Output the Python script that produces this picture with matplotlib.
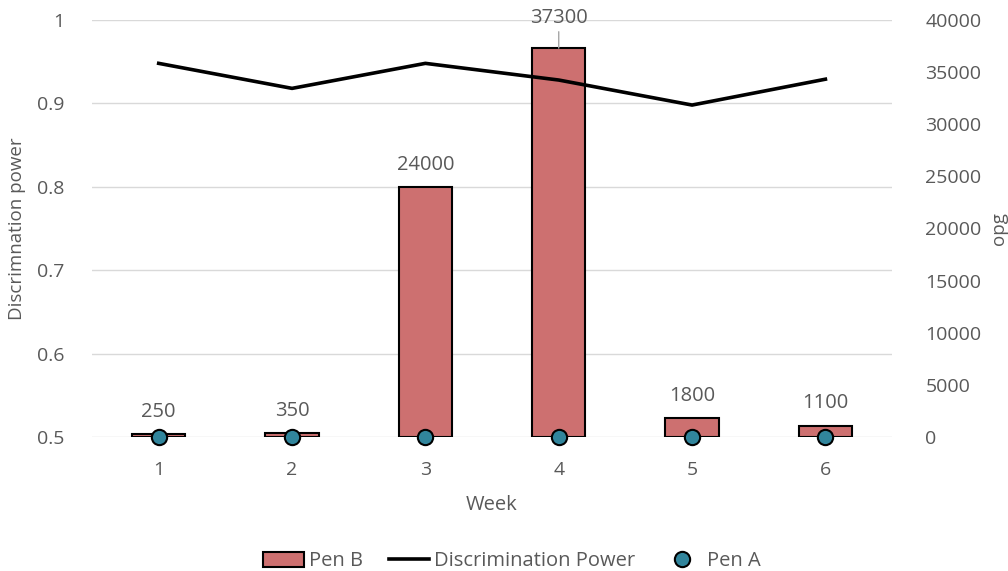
import matplotlib
matplotlib.use("Agg")
import matplotlib.pyplot as plt
from matplotlib.patches import Patch
from matplotlib.lines import Line2D

weeks = [1, 2, 3, 4, 5, 6]
week_labels = ["1", "2", "3", "4", "5", "6"]
pen_b = [250, 350, 24000, 37300, 1800, 1100]
discrimination_power = [0.948, 0.918, 0.948, 0.928, 0.898, 0.929]
pen_a = [0, 0, 0, 0, 0, 0]
left_ticks = [0.5, 0.6, 0.7, 0.8, 0.9, 1.0]
left_tick_labels = ["0.5", "0.6", "0.7", "0.8", "0.9", "1"]
right_ticks = [0, 5000, 10000, 15000, 20000, 25000, 30000, 35000, 40000]

TXT = "#595959"
BAR = "#CD7070"
TEAL = "#31859C"
GRID = "#D9D9D9"
plt.rcParams['font.family'] = ['Open Sans', 'DejaVu Sans']

fig = plt.figure(figsize=(10.08, 5.71), dpi=100)
pos = [0.0913, 0.2347, 0.7937, 0.7303]
ax1 = fig.add_axes(pos)
ax1.set_xlim(0.5, 6.5)
ax1.set_ylim(0.5, 1.0)
ax1.set_yticks(left_ticks)
ax1.set_yticklabels(left_tick_labels)
ax1.set_xticks(weeks)
ax1.set_xticklabels(week_labels)
ax1.grid(axis='y', color=GRID, linewidth=1)
ax1.set_axisbelow(True)
for s in ax1.spines.values():
    s.set_visible(False)
ax1.tick_params(length=0, labelsize=14, colors=TXT)
ax1.tick_params(axis='x', pad=17)
ax1.tick_params(axis='y', pad=20)
ax1.set_xlabel("Week", fontsize=14.5, color=TXT, labelpad=12)
ax1.set_ylabel("Discrimnation power", fontsize=13.5, color=TXT, labelpad=8)

ax2 = ax1.twinx()
ax2.set_ylim(0, 40000)
ax2.set_yticks(right_ticks)
for s in ax2.spines.values():
    s.set_visible(False)
ax2.tick_params(length=0, labelsize=14, colors=TXT, pad=24)
ax2.set_ylabel("opg", fontsize=13.5, color=TXT, labelpad=6)
bars = ax2.bar(weeks, pen_b, width=0.4, color=BAR, edgecolor='black', linewidth=1.5, zorder=2)
ax2.plot(weeks, pen_a, linestyle='none', marker='o', markersize=11, markerfacecolor=TEAL,
         markeredgecolor='black', markeredgewidth=1.5, zorder=5, clip_on=False)
for x, v in zip(weeks, pen_b):
    if v == max(pen_b):
        ax2.annotate(str(v), xy=(x, v), xytext=(0, 22), textcoords='offset points',
                     ha='center', va='center', fontsize=14.5, color=TXT,
                     arrowprops=dict(arrowstyle='-', color='#A6A6A6', lw=1, shrinkA=1, shrinkB=0))
    else:
        ax2.annotate(str(v), xy=(x, v), xytext=(0, 16), textcoords='offset points',
                     ha='center', va='center', fontsize=14.5, color=TXT)

ax3 = fig.add_axes(pos, sharex=ax1, sharey=ax1)
ax3.patch.set_visible(False)
ax3.axis('off')
ax3.plot(weeks, discrimination_power, color='black', linewidth=2.6, zorder=3)

handles = [Patch(facecolor=BAR, edgecolor='black', linewidth=1.5),
           Line2D([], [], color='black', linewidth=2.6),
           Line2D([], [], linestyle='none', marker='o', markersize=11, markerfacecolor=TEAL,
                  markeredgecolor='black', markeredgewidth=1.5)]
labels = ["Pen B", "Discrimination Power", "Pen A"]
leg = fig.legend(handles, labels, loc='center', bbox_to_anchor=(0.508, 0.017), ncol=3,
                 frameon=False, fontsize=14.5, handlelength=2.0, columnspacing=1.3,
                 handletextpad=0.25, handleheight=0.8)
for t in leg.get_texts():
    t.set_color(TXT)

fig.savefig("out.png", dpi=100)
